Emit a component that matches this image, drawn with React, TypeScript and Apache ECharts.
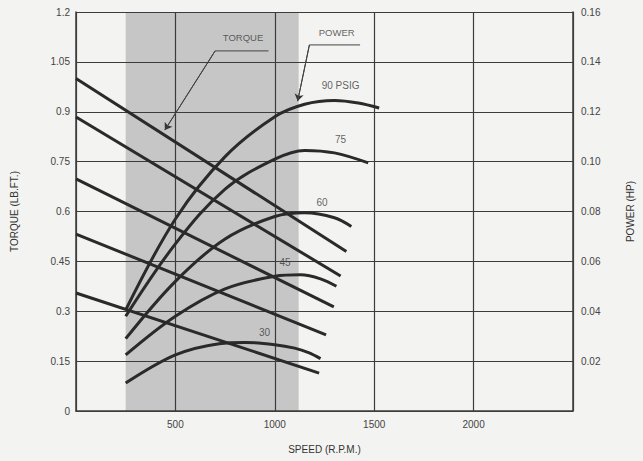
import React, { useEffect, useRef } from "react";
import * as echarts from "echarts";

// Torque lines (speed rpm, torque lb.ft.)
const torque90 = [[0, 1.0], [1360, 0.48]];
const torque75 = [[0, 0.884], [1331, 0.406]];
const torque60 = [[0, 0.698], [1297, 0.313]];
const torque45 = [[0, 0.532], [1258, 0.229]];
const torque30 = [[0, 0.355], [1223, 0.114]];

// Power curves (speed rpm, power HP)
const power90 = [[250, 0.0405], [500, 0.077], [750, 0.102], [1000, 0.118], [1150, 0.123], [1300, 0.1245], [1420, 0.1235], [1525, 0.1215]];
const power75 = [[250, 0.038], [500, 0.067], [750, 0.089], [1000, 0.101], [1150, 0.1045], [1300, 0.1035], [1470, 0.0995]];
const power60 = [[250, 0.029], [500, 0.052], [750, 0.069], [1000, 0.078], [1150, 0.0795], [1300, 0.0775], [1385, 0.074]];
const power45 = [[250, 0.0225], [500, 0.038], [750, 0.049], [1000, 0.054], [1130, 0.0546], [1230, 0.053], [1310, 0.05]];
const power30 = [[250, 0.0112], [500, 0.0225], [720, 0.027], [850, 0.0275], [1000, 0.0266], [1100, 0.0252], [1170, 0.0234], [1230, 0.021]];

// Shaded operating band (rpm)
const shadedBand = [250, 1120];

// Pressure labels (power axis coords)
const pressureLabels = ["90 PSIG", "75", "60", "45", "30"];
const pressureLabelPos = [[1331, 0.1307], [1331, 0.1087], [1238, 0.0838], [1051, 0.0597], [948, 0.0313]];

// Annotations (torque axis coords)
const annotationLabels = ["TORQUE", "POWER"];
const annotationPos = [[840, 1.122], [1311, 1.137]];
const torqueLeader = [[968, 1.083], [700, 1.083], [447, 0.845]];
const powerLeader = [[1429, 1.101], [1174, 1.101], [1115, 0.932]];

const FONT = "Liberation Sans";
const INK = "#2a2a2a";
const GRID = "#3c3c3c";

export default function App() {
  const ref = useRef<HTMLDivElement>(null);
  useEffect(() => {
    const chart = echarts.init(ref.current!, null, { renderer: "svg" });
    const lineStyle = { color: INK, width: 3 };
    const torqueSeries = [torque90, torque75, torque60, torque45, torque30].map((d) => ({
      type: "line",
      data: d,
      yAxisIndex: 0,
      showSymbol: false,
      symbol: "none",
      lineStyle,
      z: 3,
    }));
    const powerSeries = [power90, power75, power60, power45, power30].map((d) => ({
      type: "line",
      data: d,
      yAxisIndex: 1,
      smooth: 0.35,
      showSymbol: false,
      symbol: "none",
      lineStyle,
      z: 3,
    }));
    const leaders = [torqueLeader, powerLeader].flatMap((d) => [
      {
        type: "line",
        data: d,
        yAxisIndex: 0,
        symbol: "none",
        lineStyle: { color: "#444", width: 1 },
        z: 4,
      },
      {
        type: "lines",
        coordinateSystem: "cartesian2d",
        yAxisIndex: 0,
        symbol: ["none", "arrow"],
        symbolSize: 7,
        lineStyle: { color: "#333", width: 1, opacity: 1 },
        data: [{ coords: [d[d.length - 2], d[d.length - 1]] }],
        z: 4,
      },
    ]);
    chart.setOption({
      animation: false,
      backgroundColor: "#f3f3f1",
      textStyle: { fontFamily: FONT },
      grid: { left: 76, right: 58, top: 12, bottom: 50, containLabel: false },
      xAxis: {
        type: "value",
        min: 0,
        max: 2500,
        interval: 500,
        z: 2,
        name: "SPEED (R.P.M.)",
        nameLocation: "middle",
        nameGap: 33,
        nameTextStyle: { color: "#333", fontSize: 10, fontFamily: FONT },
        axisLine: { show: true, lineStyle: { color: GRID, width: 1.5 } },
        axisTick: { show: false },
        axisLabel: {
          color: "#444",
          fontSize: 10,
          margin: 8,
          formatter: (v: number) => (v === 0 || v === 2500 ? "" : String(v)),
        },
        splitLine: { show: true, lineStyle: { color: GRID, width: 1.2 } },
      },
      yAxis: [
        {
          type: "value",
          min: 0,
          max: 1.2,
          interval: 0.15,
          z: 2,
          name: "TORQUE (LB.FT.)",
          nameLocation: "middle",
          nameGap: 57,
          nameRotate: 90,
          nameTextStyle: { color: "#333", fontSize: 10, fontFamily: FONT },
          axisLine: { show: true, lineStyle: { color: GRID, width: 1.5 } },
          axisTick: { show: false },
          axisLabel: {
            color: "#444",
            fontSize: 10,
            margin: 6,
            formatter: (v: number) => String(Math.round(v * 100) / 100),
          },
          splitLine: { show: true, lineStyle: { color: GRID, width: 1.2 } },
        },
        {
          type: "value",
          min: 0,
          max: 0.16,
          interval: 0.02,
          z: 2,
          position: "right",
          name: "POWER (HP)",
          nameLocation: "middle",
          nameGap: 52,
          nameRotate: 90,
          nameTextStyle: { color: "#333", fontSize: 10, fontFamily: FONT },
          axisLine: { show: true, lineStyle: { color: GRID, width: 1.5 } },
          axisTick: { show: false },
          axisLabel: {
            color: "#444",
            fontSize: 10,
            margin: 8,
            formatter: (v: number) => (v === 0 ? "" : v.toFixed(2)),
          },
          splitLine: { show: false },
        },
      ],
      series: [
        {
          type: "line",
          data: [],
          z: 0,
          silent: true,
          markArea: {
            silent: true,
            z: 0,
            itemStyle: { color: "#c6c6c6", opacity: 1 },
            data: [[{ xAxis: shadedBand[0] }, { xAxis: shadedBand[1] }]],
          },
        },
        ...torqueSeries,
        ...powerSeries,
        ...leaders,
        {
          type: "scatter",
          yAxisIndex: 1,
          symbolSize: 0,
          z: 5,
          data: pressureLabels.map((t, i) => ({ name: t, value: pressureLabelPos[i] })),
          label: {
            show: true,
            position: "inside",
            formatter: (p: any) => p.name,
            color: "#3a3a3a",
            fontSize: 10,
            fontFamily: FONT,
          },
        },
        {
          type: "scatter",
          yAxisIndex: 0,
          symbolSize: 0,
          z: 5,
          data: annotationLabels.map((t, i) => ({ name: t, value: annotationPos[i] })),
          label: {
            show: true,
            position: "inside",
            formatter: (p: any) => p.name,
            color: "#3a3a3a",
            fontSize: 9.5,
            fontFamily: FONT,
          },
        },
      ],
    });
    return () => chart.dispose();
  }, []);
  return (
    <div
      ref={ref}
      style={{ position: "absolute", left: 0, top: 0, width: 643, height: 461 }}
    />
  );
}
